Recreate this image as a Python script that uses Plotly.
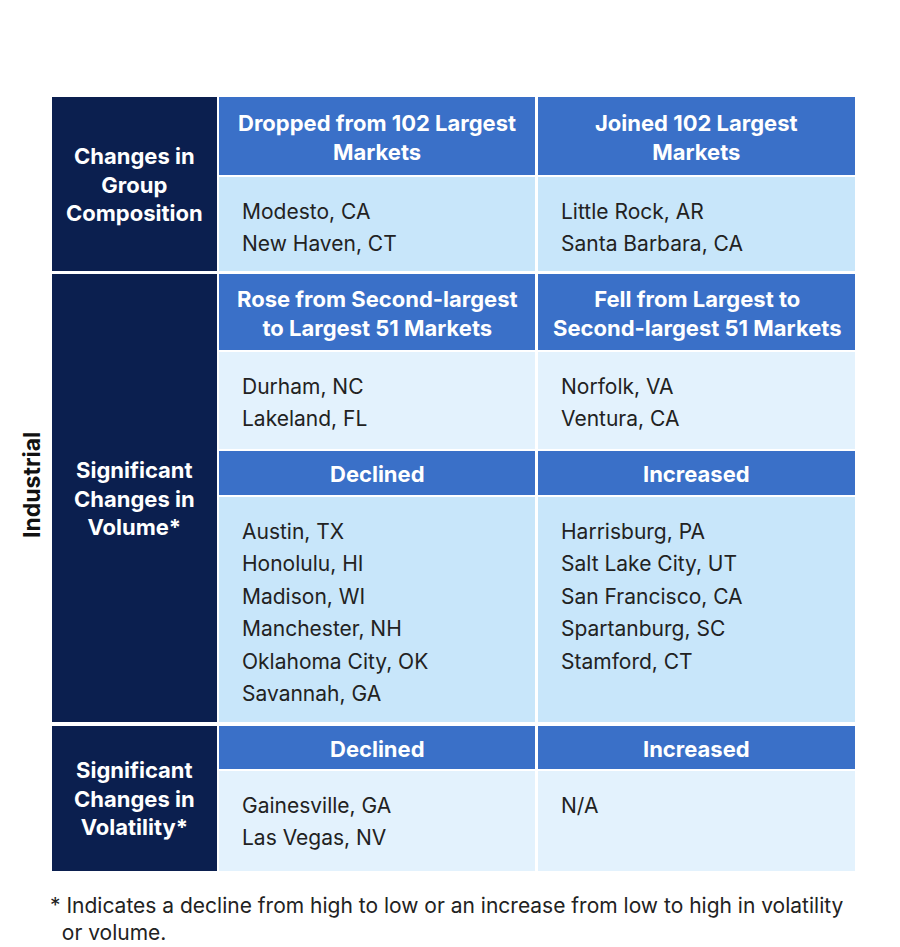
import plotly.graph_objects as go

title_prefix = "Table 4:"
title_line1 = " Significant Changes in Industrial Market Size and Volatility"
title_line2 = "from Q1 2025 to Q1 2026"
side_label = "Industrial"
sections = ["Changes in<br>Group<br>Composition", "Significant<br>Changes in<br>Volume*", "Significant<br>Changes in<br>Volatility*"]
headers_left = ["Dropped from 102 Largest<br>Markets", "Rose from Second-largest<br>to Largest 51 Markets", "Declined", "Declined"]
headers_right = ["Joined 102 Largest<br>Markets", "Fell from Largest to<br>Second-largest 51 Markets", "Increased", "Increased"]
cells_left = [["Modesto, CA", "New Haven, CT"], ["Durham, NC", "Lakeland, FL"],
              ["Austin, TX", "Honolulu, HI", "Madison, WI", "Manchester, NH", "Oklahoma City, OK", "Savannah, GA"],
              ["Gainesville, GA", "Las Vegas, NV"]]
cells_right = [["Little Rock, AR", "Santa Barbara, CA"], ["Norfolk, VA", "Ventura, CA"],
               ["Harrisburg, PA", "Salt Lake City, UT", "San Francisco, CA", "Spartanburg, SC", "Stamford, CT"],
               ["N/A"]]
footnote = "* Indicates a decline from high to low or an increase from low to high in volatility<br>  or volume."

NAVY = "#0b1f4f"; BLUE = "#3a70c8"; LIGHT = ["#c8e6fa", "#e3f2fd", "#c8e6fa", "#e3f2fd"]
FONT = "Inter"

hdr = [(97, 175), (274, 350), (451, 495), (726, 769)]
cel = [(177, 271), (352, 449), (497, 722), (771, 871)]
nav = [(97, 271), (274, 722), (726, 871)]
colx = [(219, 535), (538, 855)]

shapes, ann = [], []
def rect(x0, x1, y0, y1, c):
    shapes.append(dict(type="rect", x0=x0, x1=x1, y0=y0, y1=y1, fillcolor=c, line_width=0, layer="below"))

for i, (a, b) in enumerate(nav):
    rect(52, 217, a, b, NAVY)
    ann.append(dict(x=134, y=(a + b) / 2, text="<b>" + sections[i] + "</b>", showarrow=False,
                    font=dict(color="white", size=22, family=FONT), align="center"))
for i in range(4):
    for j, (x0, x1) in enumerate(colx):
        rect(x0, x1, hdr[i][0], hdr[i][1], BLUE)
        rect(x0, x1, cel[i][0], cel[i][1], LIGHT[i])
        h = (headers_left if j == 0 else headers_right)[i]
        ann.append(dict(x=(x0 + x1) / 2, y=(hdr[i][0] + hdr[i][1]) / 2 + 1, text="<b>" + h + "</b>",
                        showarrow=False, font=dict(color="white", size=22, family=FONT), align="center"))
        items = (cells_left if j == 0 else cells_right)[i]
        top = cel[i][0] + 34
        for k, t in enumerate(items):
            ann.append(dict(x=x0 + 21, y=top + k * 32.5, text=t, showarrow=False, xanchor="left",
                            font=dict(color="#222222", size=21, family=FONT)))

ann.append(dict(x=32, y=485, text="<b>" + side_label + "</b>", textangle=-90, showarrow=False,
                font=dict(color="#111111", size=23, family=FONT)))
ann.append(dict(x=3, y=18, xanchor="left", showarrow=False, align="left",
                text=f"<b><span style='color:{BLUE}'>{title_prefix}</span>{title_line1}</b>",
                font=dict(color=NAVY, size=26, family=FONT)))
ann.append(dict(x=3, y=48, xanchor="left", showarrow=False, text=f"<b>{title_line2}</b>",
                font=dict(color=NAVY, size=26, family=FONT)))
ann.append(dict(x=48, y=919, xanchor="left", showarrow=False, align="left", text=footnote,
                font=dict(color="#222222", size=21, family=FONT)))

fig = go.Figure()
fig.update_layout(width=900, height=947, margin=dict(l=0, r=0, t=0, b=0),
                  plot_bgcolor="white", paper_bgcolor="white", shapes=shapes, annotations=ann,
                  xaxis=dict(range=[8, 908], visible=False, fixedrange=True),
                  yaxis=dict(range=[955, 8], visible=False, fixedrange=True), showlegend=False)
fig.write_html("out.html")
